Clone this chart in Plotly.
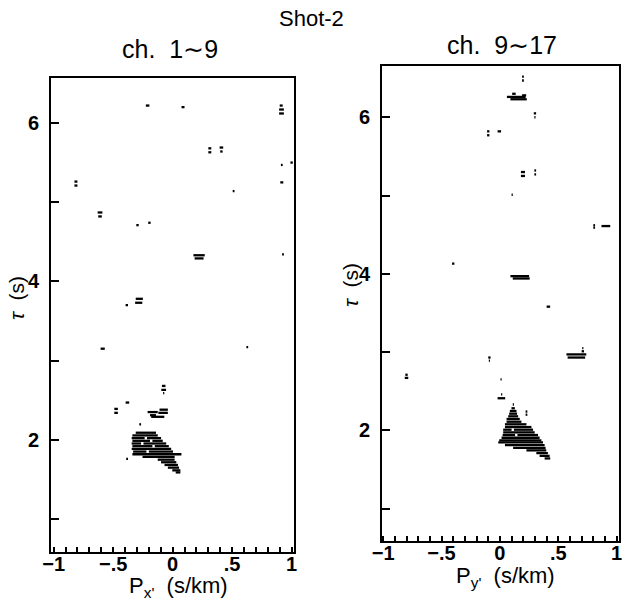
import plotly.graph_objects as go

# ---- Left panel: ch. 1~9  (each mark = horizontal dash at tau from p0 to p1)
left_tau = [6.22, 6.20, 6.22, 6.17, 6.12, 5.68, 5.63, 5.69, 5.64, 5.50, 5.47, 5.25,
            5.26, 5.21, 5.14, 4.87, 4.82, 4.71, 4.74, 4.33, 4.29, 4.34,
            3.78, 3.73, 3.70, 3.15, 3.17, 2.68, 2.63, 2.59, 2.47, 2.39, 2.34,
            2.38, 2.35, 2.34, 2.31, 2.29, 2.195, 1.76,
            2.089, 2.055, 2.021, 2.021, 1.987, 1.987, 1.953, 1.953, 1.919, 1.919,
            1.885, 1.851, 1.851, 1.817, 1.783, 1.749, 1.716, 1.682, 1.648, 1.614, 1.588]
left_p0 = [-0.225, 0.075, 0.900, 0.895, 0.895, 0.300, 0.300, 0.395, 0.400, 0.990, 0.910, 0.905,
           -0.825, -0.825, 0.505, -0.630, -0.625, -0.305, -0.205, 0.175, 0.185, 0.920,
           -0.310, -0.315, -0.395, -0.605, 0.620, -0.090, -0.095, -0.080, -0.395, -0.490, -0.490,
           -0.110, -0.210, -0.120, -0.190, -0.180, -0.280, -0.390,
           -0.310, -0.338, -0.344, -0.215, -0.338, -0.170, -0.344, -0.245, -0.338, -0.150,
           -0.344, -0.332, -0.200, -0.338, -0.253, -0.125, -0.097, -0.068, -0.040, -0.003, 0.026]
left_p1 = [-0.195, 0.100, 0.925, 0.935, 0.935, 0.325, 0.325, 0.425, 0.420, 1.010, 0.925, 0.930,
           -0.800, -0.800, 0.520, -0.590, -0.595, -0.285, -0.185, 0.270, 0.260, 0.935,
           -0.250, -0.255, -0.375, -0.570, 0.635, -0.060, -0.055, -0.070, -0.365, -0.460, -0.460,
           -0.040, -0.125, -0.040, -0.140, -0.070, -0.265, -0.375,
           -0.140, -0.125, -0.235, -0.097, -0.190, -0.083, -0.265, -0.054, -0.170, -0.032,
           -0.012, -0.220, 0.003, 0.074, 0.017, 0.017, 0.031, 0.045, 0.054, 0.065, 0.065]

# ---- Right panel: ch. 9~17
right_tau = [6.52, 6.47, 6.30, 6.28, 6.26, 6.23, 6.05, 6.00, 5.82, 5.77, 5.82,
             5.30, 5.25, 5.32, 5.27, 5.01, 4.62, 4.59, 4.61, 4.13, 3.97, 3.94,
             3.58, 3.05, 3.01, 2.97, 2.93, 2.93, 2.89, 2.71, 2.67, 2.65, 2.46, 2.41,
             2.33, 2.24, 2.20,
             2.282, 2.247, 2.213, 2.179, 2.145, 2.110, 2.077, 2.042, 2.008, 2.008,
             1.974, 1.940, 1.940, 1.905, 1.872, 1.846, 1.812, 1.777, 1.744, 1.709, 1.674, 1.641]
right_p0 = [0.190, 0.190, 0.105, 0.190, 0.060, 0.090, 0.290, 0.295, -0.110, -0.110, -0.020,
            0.180, 0.180, 0.295, 0.295, 0.100, 0.800, 0.800, 0.870, -0.410, 0.090, 0.110,
            0.400, 0.705, 0.700, 0.570, 0.580, -0.100, -0.095, -0.810, -0.815, 0.005, 0.010, -0.020,
            0.110, 0.220, 0.220,
            0.099, 0.085, 0.079, 0.071, 0.057, 0.057, 0.043, 0.043, 0.028, 0.120,
            0.028, 0.023, 0.150, 0.014, -0.006, -0.014, 0.043, 0.113, 0.227, 0.312, 0.340, 0.383]
right_p1 = [0.205, 0.205, 0.135, 0.225, 0.220, 0.230, 0.310, 0.305, -0.090, -0.090, 0.010,
            0.215, 0.215, 0.310, 0.310, 0.110, 0.815, 0.815, 0.945, -0.390, 0.250, 0.255,
            0.430, 0.715, 0.720, 0.740, 0.730, -0.080, -0.085, -0.790, -0.785, 0.015, 0.020, 0.045,
            0.120, 0.235, 0.235,
            0.128, 0.142, 0.147, 0.156, 0.170, 0.184, 0.227, 0.270, 0.100, 0.284,
            0.298, 0.130, 0.326, 0.340, 0.355, 0.369, 0.383, 0.391, 0.397, 0.411, 0.426, 0.431]

x_tickvals = [-1, -0.5, 0, 0.5, 1]
x_ticktext = ["<b>\u22121</b>", "<b>\u2212.5</b>", "<b>0</b>", "<b>.5</b>", "<b>1</b>"]
y_tickvals = [1, 2, 3, 4, 5, 6]
y_ticktext = ["", "<b>2</b>", "", "<b>4</b>", "", "<b>6</b>"]


def segments(tau, p0, p1):
    xs, ys = [], []
    for t, a, b in zip(tau, p0, p1):
        xs += [a, b, None]
        ys += [t, t, None]
    return xs, ys


fig = go.Figure()
lx, ly = segments(left_tau, left_p0, left_p1)
rx, ry = segments(right_tau, right_p0, right_p1)
fig.add_trace(go.Scatter(x=lx, y=ly, mode="lines", line=dict(color="black", width=2.3),
                         xaxis="x", yaxis="y", showlegend=False, hoverinfo="skip"))
fig.add_trace(go.Scatter(x=rx, y=ry, mode="lines", line=dict(color="black", width=2.3),
                         xaxis="x2", yaxis="y2", showlegend=False, hoverinfo="skip"))

W, H = 623, 600
font = "Liberation Sans, Arial, sans-serif"


def xaxis(dom, rng, anchor):
    return dict(domain=dom, range=rng, anchor=anchor, showgrid=False, zeroline=False,
                automargin=False, ticklabeloverflow="allow",
                showline=True, mirror=True, linecolor="black", linewidth=2,
                ticks="inside", ticklen=5, tickwidth=1.5, tickcolor="black",
                tickvals=x_tickvals, ticktext=x_ticktext, ticklabelstandoff=-7,
                tickfont=dict(family=font, size=20, color="black"),
                minor=dict(ticks="inside", ticklen=5, tickwidth=1.5, tickcolor="black",
                           tick0=0, dtick=0.1, showgrid=False))


def yaxis(dom, rng, anchor):
    return dict(domain=dom, range=rng, anchor=anchor, showgrid=False, zeroline=False,
                automargin=False, ticklabeloverflow="allow",
                showline=True, mirror=True, linecolor="black", linewidth=2,
                ticks="inside", ticklen=8, tickwidth=1.5, tickcolor="black",
                tickvals=y_tickvals, ticktext=y_ticktext, ticklabelstandoff=6,
                tickfont=dict(family=font, size=20, color="black"))


fig.update_layout(
    width=W, height=H, margin=dict(l=0, r=0, t=0, b=0, autoexpand=False),
    paper_bgcolor="white", plot_bgcolor="white",
    xaxis=xaxis([51 / W, 294 / W], [-1.022, 1.02], "y"),
    yaxis=yaxis([1 - 552 / H, 1 - 78 / H], [0.583, 6.568], "x"),
    xaxis2=xaxis([382 / W, 619 / W], [-1.01, 1.02], "y2"),
    yaxis2=yaxis([1 - 541 / H, 1 - 66 / H], [0.586, 6.655], "x2"),
)

ann = [
    dict(text="Shot-2", x=311 / W, y=1 - 18 / H, size=22, angle=0),
    dict(text="ch.  1\u223c9", x=170 / W, y=1 - 49 / H, size=25, angle=0),
    dict(text="ch.  9\u223c17", x=502 / W, y=1 - 45 / H, size=25, angle=0),
    dict(text="P<sub>x'</sub>  (s/km)", x=178 / W, y=1 - 587 / H, size=22, angle=0),
    dict(text="P<sub>y'</sub>  (s/km)", x=505 / W, y=1 - 577 / H, size=22, angle=0),
    dict(text="<i>\u03c4</i>  (s)", x=17 / W, y=1 - 298 / H, size=21, angle=-90),
    dict(text="<i>\u03c4</i>  (s)", x=350 / W, y=1 - 285 / H, size=21, angle=-90),
]
for a in ann:
    fig.add_annotation(text=a["text"], x=a["x"], y=a["y"], xref="paper", yref="paper",
                       xanchor="center", yanchor="middle", showarrow=False,
                       textangle=a["angle"], font=dict(family=font, size=a["size"], color="black"))

fig.write_html("out.html")
